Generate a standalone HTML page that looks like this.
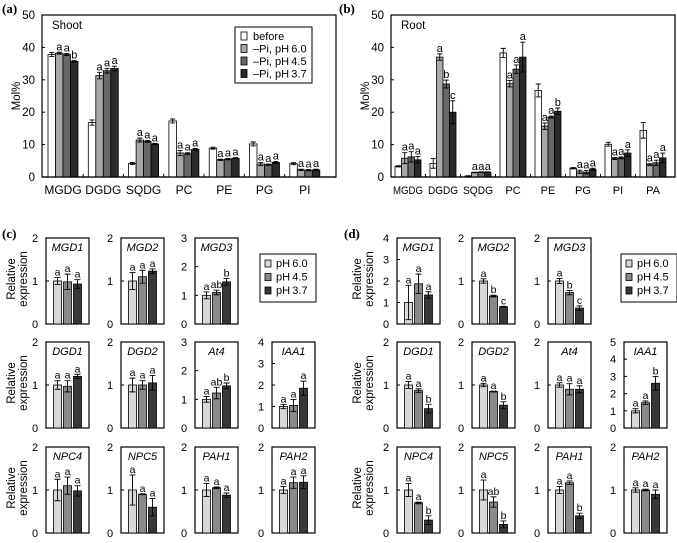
<!DOCTYPE html>
<html><head><meta charset="utf-8"><style>
body{margin:0;background:#fff}
svg{display:block;font-family:"Liberation Sans",Arial,sans-serif}
</style></head><body>
<svg id="fig" width="677" height="543" viewBox="0 0 677 543" xmlns="http://www.w3.org/2000/svg"></svg>
<script>
// ---- Panel (a) data: Shoot lipids ----
const catsA = ["MGDG","DGDG","SQDG","PC","PE","PG","PI"];
const aBefore = [37.8,16.8,4.2,17.3,8.9,10.2,4.1];
const aPh60 = [38.2,31.3,11.4,7.4,5.3,4.0,2.2];
const aPh45 = [37.8,32.8,11.0,7.2,5.5,3.8,2.1];
const aPh37 = [35.7,33.5,10.2,8.5,5.8,4.5,2.2];
const aErrBefore = [0.6,0.8,0.3,0.6,0.3,0.6,0.3];
const aErr60 = [0.3,1.0,0.6,0.8,0.2,0.5,0.2];
const aErr45 = [0.3,0.7,0.3,0.3,0.2,0.2,0.2];
const aErr37 = [0.3,0.7,0.2,0.3,0.2,0.3,0.2];
const aLetters60 = ["a","a","a","a","a","a","a"];
const aLetters45 = ["a","a","a","a","a","a","a"];
const aLetters37 = ["b","a","a","a","a","a","a"];
// ---- Panel (b) data: Root lipids ----
const catsB = ["MGDG","DGDG","SQDG","PC","PE","PG","PI","PA"];
const bBefore = [3.3,4.2,0.3,38.3,26.7,2.7,10.1,14.4];
const bPh60 = [5.8,37.0,1.4,28.8,15.7,1.6,5.7,3.8];
const bPh45 = [6.2,28.7,1.5,33.3,18.5,1.5,5.9,4.4];
const bPh37 = [5.3,20.0,1.5,37.0,20.3,2.4,7.4,5.9];
const bErrBefore = [0.2,1.5,0.1,1.4,2.0,0.2,0.6,2.4];
const bErr60 = [1.7,1.0,0.1,1.0,1.0,0.5,0.3,0.3];
const bErr45 = [1.6,1.2,0.1,1.3,0.3,0.5,0.3,0.8];
const bErr37 = [1.0,3.5,0.1,4.6,1.0,0.3,1.0,1.5];
const bLetters60 = ["a","a","a","a","a","a","a","a"];
const bLetters45 = ["a","b","a","a","a","a","a","a"];
const bLetters37 = ["a","c","a","a","b","a","a","a"];
// ---- Panel (c) data: shoot gene expression ----
const genesC = ["MGD1","MGD2","MGD3","DGD1","DGD2","At4","IAA1","NPC4","NPC5","PAH1","PAH2"];
const cMax = [2,2,3,2,2,3,4,2,2,2,2];
const c60 = [1.0,1.0,1.0,1.0,1.0,1.0,1.0,1.0,1.0,1.0,1.0];
const c45 = [0.98,1.1,1.1,0.97,1.0,1.22,1.05,1.1,0.9,1.05,1.17];
const c37 = [0.93,1.23,1.47,1.2,1.05,1.47,1.85,0.98,0.6,0.88,1.18];
const cE60 = [0.08,0.2,0.12,0.1,0.16,0.1,0.1,0.25,0.35,0.15,0.08];
const cE45 = [0.18,0.15,0.08,0.13,0.1,0.2,0.28,0.2,0.01,0.02,0.13];
const cE37 = [0.1,0.05,0.12,0.05,0.17,0.1,0.33,0.12,0.2,0.05,0.15];
const cL60 = ["a","a","a","a","a","a","a","a","a","a","a"];
const cL45 = ["a","a","ab","a","a","ab","a","a","a","a","a"];
const cL37 = ["a","a","b","a","a","b","a","a","a","a","a"];
// ---- Panel (d) data: root gene expression ----
const genesD = ["MGD1","MGD2","MGD3","DGD1","DGD2","At4","IAA1","NPC4","NPC5","PAH1","PAH2"];
const dMax = [4,2,2,2,2,2,5,2,2,2,2];
const d60 = [1.0,1.0,1.0,1.0,1.0,1.0,1.0,1.0,1.0,1.0,1.0];
const d45 = [1.87,0.65,0.73,0.87,0.85,0.9,1.47,0.7,0.72,1.17,1.0];
const d37 = [1.35,0.4,0.37,0.45,0.53,0.9,2.6,0.3,0.2,0.4,0.9];
const dE60 = [0.8,0.05,0.06,0.08,0.04,0.05,0.12,0.15,0.23,0.08,0.05];
const dE45 = [0.45,0.02,0.05,0.04,0.01,0.13,0.1,0.02,0.12,0.04,0.02];
const dE37 = [0.15,0.01,0.05,0.1,0.08,0.08,0.4,0.1,0.08,0.06,0.1];
const dL60 = ["a","a","a","a","a","a","a","a","a","a","a"];
const dL45 = ["a","b","b","a","a","a","a","a","ab","a","a"];
const dL37 = ["a","c","c","b","b","a","b","b","b","b","a"];

const NS="http://www.w3.org/2000/svg";
const svg=document.getElementById('fig');
function el(tag,attrs,parent,text){const e=document.createElementNS(NS,tag);for(const k in attrs)e.setAttribute(k,attrs[k]);if(text!==undefined)e.textContent=text;(parent||svg).appendChild(e);return e;}

function panelLabel(txt,x,y,name){
  const t=el('text',{x:x,y:y,'font-family':'"Liberation Serif",serif','font-weight':'bold','font-size':13},svg,txt);
  
  
}

// ---------- lipid bar chart ----------
function lipidChart(o){
  const g=el('g',{});
  
  
  const y=v=>o.y0-(v/50)*(o.y0-o.y1);
  const cx=i=>o.c0+i*o.step;
  el('rect',{x:o.x0,y:o.y1,width:o.x2-o.x0,height:o.y0-o.y1,fill:'none',stroke:'#000','stroke-width':1.2},g);
  [0,10,20,30,40,50].forEach(v=>{
    const t=el('text',{x:o.x0-7,y:y(v)+4,'text-anchor':'end','font-size':11.5},g,String(v));
    
    
    el('line',{x1:o.x0,x2:o.x0+3,y1:y(v),y2:y(v),stroke:'#000'},g);
  });
  const yt=el('text',{x:0,y:0,transform:`translate(${o.x0-22},${(o.y0+o.y1)/2}) rotate(-90)`,'text-anchor':'middle','font-size':11.5},g,'Mol%');
  
  
  const tt=el('text',{x:o.x0+10,y:o.y1+14,'font-size':11.5},g,o.title);
  
  
  const series=[o.s0,o.s1,o.s2,o.s3], errs=[o.e0,o.e1,o.e2,o.e3], cols=['#fff','#a8a8a8','#686868','#2a2a2a'];
  const lets=[null,o.l1,o.l2,o.l3];
  const bw=o.bw;
  o.cats.forEach((c,i)=>{
    const la={x:cx(i),y:o.y0+17,'text-anchor':'middle','font-size':o.catFont};
    if(o.fitLen && c.length>=4){la.textLength=o.fitLen;la.lengthAdjust='spacingAndGlyphs';}
    const lt=el('text',la,g,c);
    
    
    if(i>0) el('line',{x1:cx(i)-o.step/2,x2:cx(i)-o.step/2,y1:o.y0,y2:o.y0-3,stroke:'#000'},g);
    for(let s=0;s<4;s++){
      const bx=cx(i)-2*bw+s*bw, v=series[s][i], e=errs[s][i];
      const r=el('rect',{x:bx,y:y(v),width:bw,height:o.y0-y(v),fill:cols[s],stroke:'#000','stroke-width':0.8},g);
      
      
      const mx=bx+bw/2;
      el('path',{d:`M${mx},${y(v+e)}V${y(v-e)}M${mx-2.5},${y(v+e)}H${mx+2.5}M${mx-2.5},${y(v-e)}H${mx+2.5}`,stroke:'#000','stroke-width':0.9,fill:'none'},g);
      if(lets[s]){
        const lt2=el('text',{x:mx,y:y(v+e)-2,'text-anchor':'middle','font-size':11},g,lets[s][i]);
        
        
      }
    }
  });
  el('line',{x1:o.x0,x2:o.x2,y1:o.y0,y2:o.y0,stroke:'#000','stroke-width':1.2},g);
}

panelLabel('(a)',2,13,'panel-a-label');
panelLabel('(b)',339,13,'panel-b-label');
panelLabel('(c)',2,238,'panel-c-label');
panelLabel('(d)',344,238,'panel-d-label');

lipidChart({name:'shoot-lipid-chart',title:'Shoot',x0:42,x2:336,y0:177,y1:15,c0:63,step:40.3,bw:7.5,catFont:12,cats:catsA,
  s0:aBefore,s1:aPh60,s2:aPh45,s3:aPh37,e0:aErrBefore,e1:aErr60,e2:aErr45,e3:aErr37,l1:aLetters60,l2:aLetters45,l3:aLetters37});
lipidChart({name:'root-lipid-chart',title:'Root',x0:391,x2:675,y0:177,y1:15,c0:408,step:35,bw:6.5,catFont:11,fitLen:30,cats:catsB,
  s0:bBefore,s1:bPh60,s2:bPh45,s3:bPh37,e0:bErrBefore,e1:bErr60,e2:bErr45,e3:bErr37,l1:bLetters60,l2:bLetters45,l3:bLetters37});

// legend (a)
(function(){
  const g=el('g',{});
  
  
  el('rect',{x:235,y:27,width:77,height:56,fill:'#fff',stroke:'#000','stroke-width':1},g);
  const labs=['before','\u2013Pi, pH\u20096.0','\u2013Pi, pH\u20094.5','\u2013Pi, pH\u20093.7'],cols=['#fff','#a8a8a8','#686868','#2a2a2a'];
  labs.forEach((l,i)=>{
    el('rect',{x:241,y:32+i*12.5,width:6,height:8,fill:cols[i],stroke:'#000','stroke-width':0.8},g);
    const t=el('text',{x:253,y:40+i*12.5,'font-size':11},g,l);
    
    
  });
})();

// ---------- small gene charts ----------
const colX={c:[46,121,195,272],d:[397,472,548,624]};
const rowY=[238,342,447];
const BW=43,BH=86;
const layout=[[0,0],[0,1],[0,2],[1,0],[1,1],[1,2],[1,3],[2,0],[2,1],[2,2],[2,3]];
function geneCharts(p,genes,maxs,v0,v1,v2,e0,e1,e2,L0,L1,L2){
  const cols=['#d8d8d8','#8a8a8a','#383838'];
  genes.forEach((gn,i)=>{
    const [r,c]=layout[i];
    const x0=colX[p][c], y1=rowY[r], y0=y1+BH;
    const g=el('g',{});
    
    
    const y=v=>y0-(v/maxs[i])*BH;
    el('rect',{x:x0,y:y1,width:BW,height:BH,fill:'none',stroke:'#000','stroke-width':1.2},g);
    for(let t=0;t<=maxs[i];t++){
      const tl=el('text',{x:x0-11,y:y(t)+4,'text-anchor':'middle','font-size':11},g,String(t));
      
      
      el('line',{x1:x0,x2:x0+3,y1:y(t),y2:y(t),stroke:'#000'},g);
    }
    const nm=el('text',{x:x0+BW/2,y:y1+13,'text-anchor':'middle','font-size':11,'font-style':'italic'},g,gn);
    
    
    const vals=[v0[i],v1[i],v2[i]],errs=[e0[i],e1[i],e2[i]],lets=[L0[i],L1[i],L2[i]];
    for(let s=0;s<3;s++){
      const bx=x0+BW/2-15+s*10, v=vals[s], e=errs[s];
      const rr=el('rect',{x:bx+1,y:y(v),width:8,height:y0-y(v),fill:cols[s],stroke:'#000','stroke-width':0.8},g);
      
      
      const mx=bx+5;
      el('path',{d:`M${mx},${y(v+e)}V${y(Math.max(0,v-e))}M${mx-3},${y(v+e)}H${mx+3}M${mx-3},${y(Math.max(0,v-e))}H${mx+3}`,stroke:'#000','stroke-width':0.9,fill:'none'},g);
      const lt=el('text',{x:mx,y:y(v+e)-2,'text-anchor':'middle','font-size':10.5},g,lets[s]);
      
      
    }
  });
  rowY.forEach(ry=>{
    const cx=p==='c'?15:361, cy=ry+BH/2-2;
    const t=el('text',{transform:`translate(${cx},${cy}) rotate(-90)`,'text-anchor':'middle','font-size':11.5},svg);
    
    
    el('tspan',{x:0,dy:0},t,'Relative');
    el('tspan',{x:0,dy:12},t,'expression');
  });
  const lx=p==='c'?260:621, g=el('g',{});
  
  
  el('rect',{x:lx,y:254,width:56,height:48,fill:'#fff',stroke:'#000','stroke-width':1},g);
  ['pH\u20096.0','pH\u20094.5','pH\u20093.7'].forEach((l,k)=>{
    el('rect',{x:lx+5,y:260+k*13.5,width:6,height:7,fill:cols[k],stroke:'#000','stroke-width':0.8},g);
    const t=el('text',{x:lx+16,y:267+k*13.5,'font-size':11},g,l);
    
    
  });
}
geneCharts('c',genesC,cMax,c60,c45,c37,cE60,cE45,cE37,cL60,cL45,cL37);
geneCharts('d',genesD,dMax,d60,d45,d37,dE60,dE45,dE37,dL60,dL45,dL37);
</script>
</body></html>
